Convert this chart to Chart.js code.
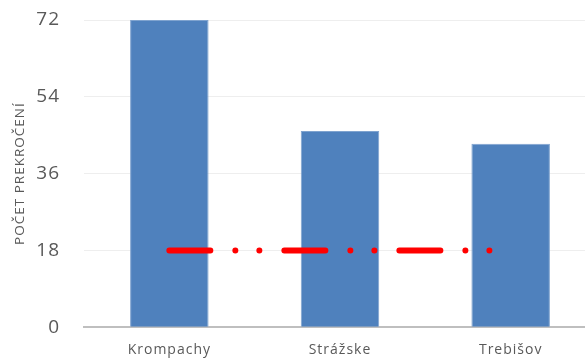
<!DOCTYPE html>
<html>
<head>
<meta charset="utf-8">
<script src="https://cdn.jsdelivr.net/npm/chart.js@4"></script>
<style>
  html, body { margin: 0; padding: 0; background: #fff; overflow: hidden; }
  #wrap { width: 600px; height: 361px; position: relative; }
</style>
</head>
<body>
<div id="wrap"><canvas id="myChart"></canvas></div>
<script>
const stations = ['Krompachy', 'Strážske', 'Trebišov'];
const exceedances = [72, 46, 43];
const limitLine = [18, 18, 18];
const yTicks = [0, 18, 36, 54, 72];

// letter spacing for the labels (Excel-ish look)
const spacingPlugin = {
  id: 'spacing',
  beforeLayout(chart) { chart.ctx.letterSpacing = '1px'; },
  beforeDraw(chart) { chart.ctx.letterSpacing = '1px'; }
};

const ctx = document.getElementById('myChart');
new Chart(ctx, {
  type: 'bar',
  data: {
    labels: stations,
    datasets: [
      {
        type: 'line',
        label: 'limit',
        data: limitLine,
        borderColor: '#ff0000',
        borderWidth: 6,
        borderCapStyle: 'round',
        borderDash: [41, 25, 0.01, 24, 0.01, 25],
        pointRadius: 0,
        fill: false,
        order: 0
      },
      {
        label: 'Počet prekročení',
        data: exceedances,
        backgroundColor: '#4f81bd',
        borderColor: '#7fa3cf',
        borderWidth: { left: 1, right: 1, top: 1, bottom: 0 },
        barPercentage: 0.46,
        categoryPercentage: 1,
        order: 1
      }
    ]
  },
  options: {
    responsive: true,
    maintainAspectRatio: false,
    animation: false,
    layout: { padding: { top: 20, left: 12, right: 4, bottom: -11 } },
    plugins: { legend: { display: false }, tooltip: { enabled: false } },
    scales: {
      x: {
        grid: { display: false, drawTicks: false },
        border: { color: '#bfbfbf', width: 2 },
        ticks: {
          color: '#595959',
          padding: 14,
          font: { family: 'Open Sans', size: 14 }
        }
      },
      y: {
        min: 0,
        max: 72,
        afterBuildTicks(axis) { axis.ticks = yTicks.map(v => ({ value: v })); },
        afterFit(axis) {
          axis.width = 72;
          axis.paddingTop = 0;
          axis.paddingBottom = 0;
        },
        grid: { color: '#eeeeee', lineWidth: 1, drawTicks: false },
        border: { display: false },
        ticks: {
          color: '#595959',
          padding: 24,
          font: { family: 'Open Sans', size: 19 }
        },
        title: {
          display: true,
          text: 'POČET PREKROČENÍ',
          color: '#595959',
          padding: { top: 0, bottom: 8 },
          font: { family: 'Open Sans', size: 13.5 }
        }
      }
    }
  },
  plugins: [spacingPlugin]
});
</script>
</body>
</html>
